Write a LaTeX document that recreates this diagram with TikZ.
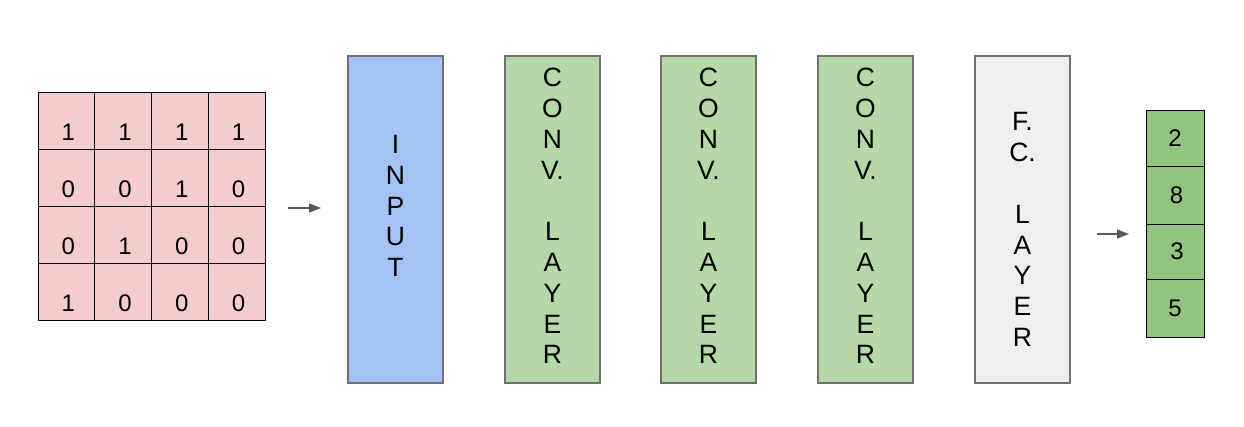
\documentclass[tikz,border=0pt]{standalone}
\usepackage{fontspec}
\setmainfont{Liberation Sans}
\usetikzlibrary{arrows.meta}
\definecolor{gridfill}{HTML}{F4CCCC}
\definecolor{inputfill}{HTML}{A4C2F4}
\definecolor{convfill}{HTML}{B6D7A8}
\definecolor{fcfill}{HTML}{EFEFEF}
\definecolor{outfill}{HTML}{93C47D}
\definecolor{boxline}{HTML}{707070}
\definecolor{arrowc}{HTML}{595959}
\tikzset{
  gridcell/.style={draw=black, line width=1pt, fill=gridfill, minimum width=56.75pt, minimum height=57pt, inner sep=0pt, text height=48pt, text depth=9pt, font=\fontsize{24}{24}\selectfont},
  outcell/.style={draw=black, line width=1pt, fill=outfill, minimum width=58pt, inner sep=0pt, font=\fontsize{24}{24}\selectfont},
  layerbox/.style={draw=boxline, line width=1.3pt, minimum width=95pt, minimum height=327pt, inner sep=0pt},
  layertext/.style={align=center, inner sep=0pt, font=\fontsize{26.5}{30.8}\selectfont},
  flow/.style={draw=arrowc, line width=1.4pt, -{Triangle[length=12pt,width=9pt]}}
}
\begin{document}
\begin{tikzpicture}[x=1pt,y=-1pt]
\useasboundingbox (0,0) rectangle (1244,426);
% input grid
\foreach \r/\row in {0/{1,1,1,1},1/{0,0,1,0},2/{0,1,0,0},3/{1,0,0,0}}{
  \foreach \v [count=\c from 0] in \row {
    \node[gridcell] (g\r\c) at ({38+56.75*\c+28.375},{92+57*\r+28.5}) {\hspace{4pt}\v};
  }
}
% arrows
\coordinate (a1s) at (288,208);
\coordinate (a1e) at (321,208);
\draw[flow] (a1s) -- (a1e);
\coordinate (a2s) at (1097,234);
\coordinate (a2e) at (1129,234);
\draw[flow] (a2s) -- (a2e);
% layers
\node[layerbox, fill=inputfill] (input) at (395.5,219.5) {};
\node[layertext] (inputtxt) at (395.5,206) {I\\N\\P\\U\\T};
\node[layerbox, fill=convfill] (conv1) at (552.5,219.5) {};
\node[layertext] (conv1txt) at (552.5,216) {C\\O\\N\\V.\\\mbox{}\\L\\A\\Y\\E\\R};
\node[layerbox, fill=convfill] (conv2) at (708.5,219.5) {};
\node[layertext] (conv2txt) at (708.5,216) {C\\O\\N\\V.\\\mbox{}\\L\\A\\Y\\E\\R};
\node[layerbox, fill=convfill] (conv3) at (865.5,219.5) {};
\node[layertext] (conv3txt) at (865.5,216) {C\\O\\N\\V.\\\mbox{}\\L\\A\\Y\\E\\R};
\node[layerbox, fill=fcfill] (fc) at (1022.5,219.5) {};
\node[layertext] (fctxt) at (1022.5,229.5) {F.\\C.\\\mbox{}\\L\\A\\Y\\E\\R};
% output
\node[outcell, minimum height=56pt] (o1) at (1175,138) {2};
\node[outcell, minimum height=58pt] (o2) at (1175,195) {\hspace{3pt}8};
\node[outcell, minimum height=55pt] (o3) at (1175,251.5) {\hspace{4pt}3};
\node[outcell, minimum height=58pt] (o4) at (1175,308) {5};
\end{tikzpicture}
\end{document}
